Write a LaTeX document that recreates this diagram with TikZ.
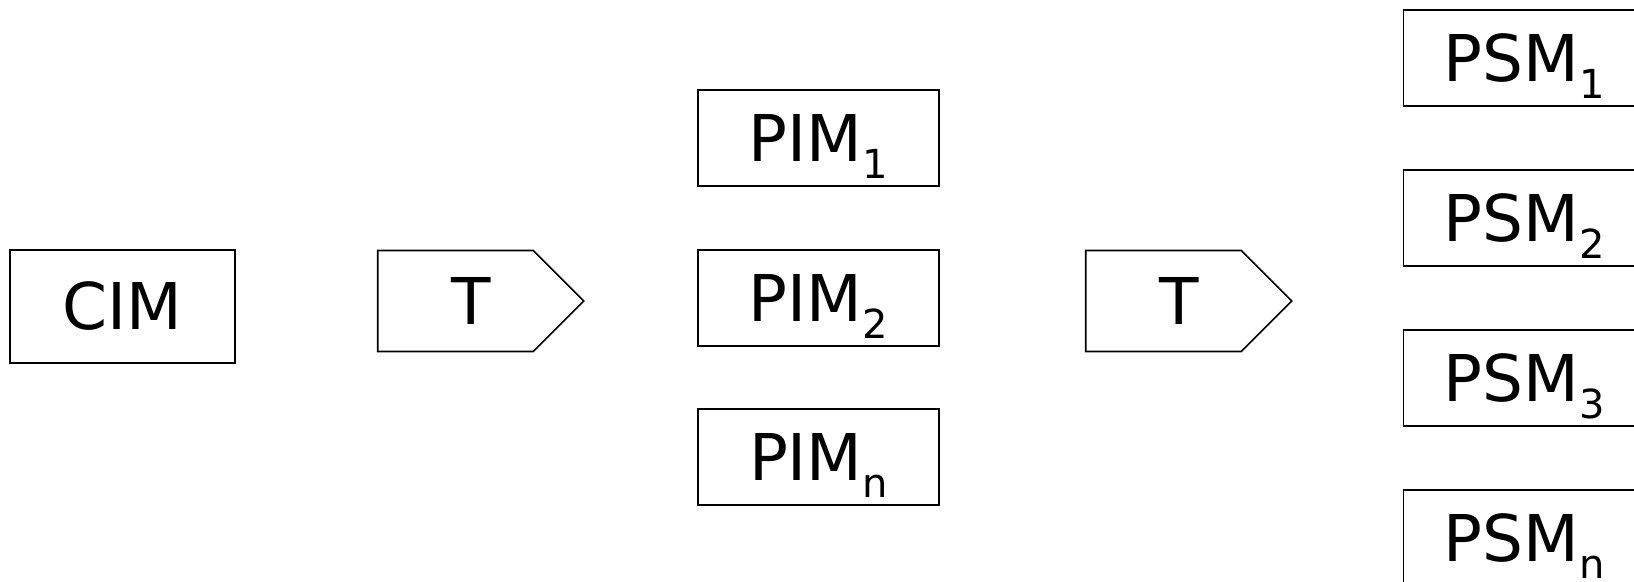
\documentclass[tikz,border=0pt]{standalone}
\usepackage{fontspec}
\setmainfont{DejaVu Sans}
\usepackage{tikz}
\usetikzlibrary{shapes.symbols}
\newcommand{\idx}[1]{\raisebox{-8.5pt}{\fontsize{20pt}{24pt}\selectfont #1}}
\tikzset{model/.style={draw, line width=0.85pt, inner sep=0, text height=23.5pt, text depth=0pt,
    minimum width=120.5pt, minimum height=47.75pt, font=\fontsize{32.25pt}{38pt}\selectfont}}
\tikzset{transform/.style={model, signal, signal to=east, signal pointer angle=90,
    minimum width=103pt, minimum height=50.5pt}}

\begin{document}
\begin{tikzpicture}[x=0.5pt, y=-0.5pt]
  \useasboundingbox (0, 0) rectangle (1634, 582);
  \clip (0, 0) rectangle (1634, 582);

  \node[model, minimum width=112.5pt, minimum height=56.5pt] at (122.5, 306.5) (CIM) {CIM};
  \node[transform] at (455.5, 301) (T1) {\hspace*{15.5pt}T};

  \node[model] at (818.5, 138) (PIM1) {PIM\idx{1}};
  \node[model] at (818.5, 298) (PIM2) {PIM\idx{2}};
  \node[model] at (818.5, 457) (PIMn) {PIM\idx{n}};

  \node[transform] at (1163.5, 301) (T2) {\hspace*{15.5pt}T};

  \node[model] at (1524, 58) (PSM1) {PSM\idx{1}};
  \node[model] at (1524, 218) (PSM2) {PSM\idx{2}};
  \node[model] at (1524, 378) (PSM3) {PSM\idx{3}};
  \node[model] at (1524, 538) (PSMn) {PSM\idx{n}};
\end{tikzpicture}
\end{document}
